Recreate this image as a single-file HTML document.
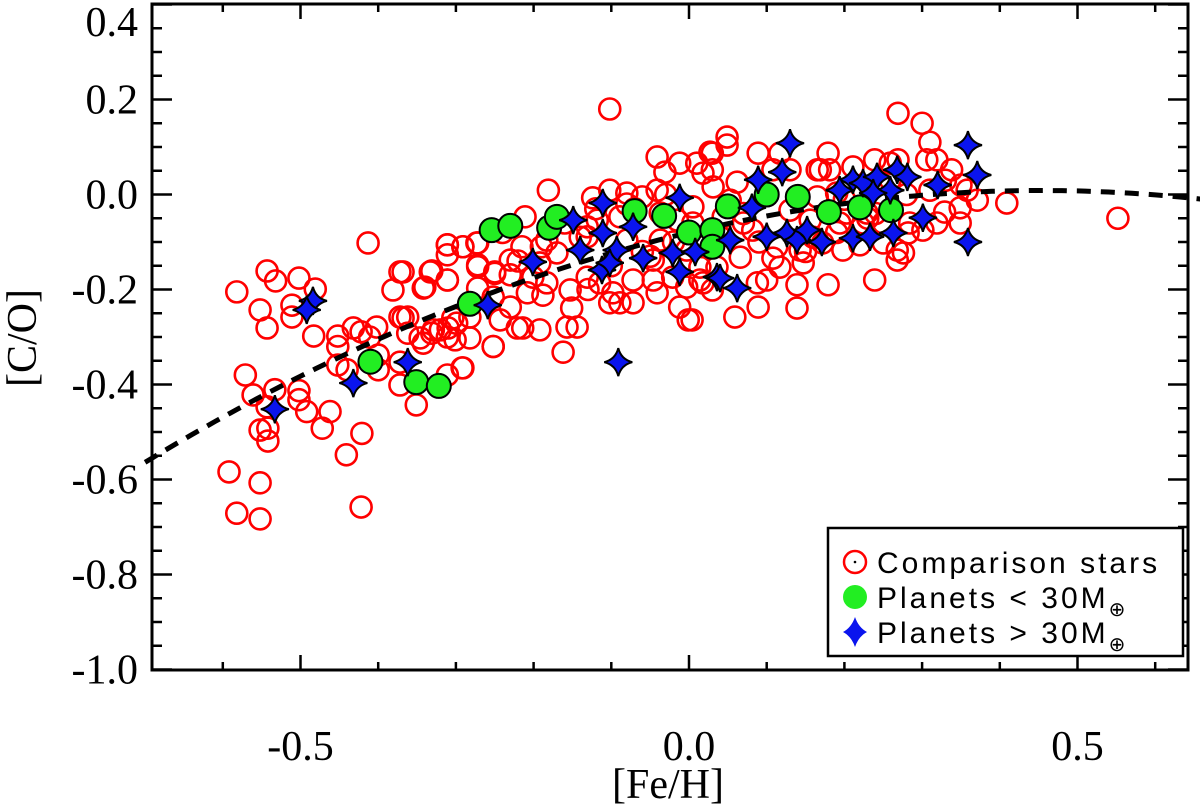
<!DOCTYPE html>
<html><head><meta charset="utf-8"><style>
html,body{margin:0;padding:0;background:#fff;}
svg{display:block;}
.tl{font-family:"Liberation Serif",serif;font-size:42px;fill:#000;}
.lg{font-family:"Liberation Sans",sans-serif;font-size:30px;fill:#000;letter-spacing:3px;}
</style></head><body>
<svg id="chart" width="1200" height="808" viewBox="0 0 1200 808" xmlns="http://www.w3.org/2000/svg">
<g id="marks"></g>
<g id="axes"></g>
</svg>
<script>
const xTicks=[-0.5,0.0,0.5];
const xTickLabels=["-0.5","0.0","0.5"];
const yTicks=[0.4,0.2,0.0,-0.2,-0.4,-0.6,-0.8,-1.0];
const yTickLabels=["0.4","0.2","0.0","-0.2","-0.4","-0.6","-0.8","-1.0"];
const fitCoeffs=[-0.08,0.39,-0.43];
const greenX=[-0.254,-0.23,-0.18,-0.17,-0.07,-0.032,0,0.03,0.03,0.05,0.1,0.14,0.18,0.22,0.26,-0.282,-0.41,-0.351,-0.322];
const greenY=[-0.075,-0.066,-0.07,-0.047,-0.035,-0.045,-0.08,-0.075,-0.11,-0.025,0,-0.005,-0.037,-0.027,-0.033,-0.23,-0.352,-0.395,-0.403];
const blueX=[-0.533,-0.484,-0.492,-0.432,-0.362,-0.259,-0.111,-0.149,-0.111,-0.140,-0.201,-0.093,-0.112,-0.102,-0.072,-0.059,-0.012,-0.021,0.008,-0.012,0.036,-0.091,0.130,0.120,0.089,0.081,0.053,0.040,0.062,0.100,0.126,0.139,0.152,0.171,0.211,0.224,0.242,0.268,0.281,0.259,0.320,0.359,0.371,0.359,0.301,0.263,0.211,0.233,0.194,0.237];
const blueY=[-0.452,-0.224,-0.243,-0.397,-0.353,-0.233,-0.018,-0.054,-0.081,-0.117,-0.142,-0.117,-0.159,-0.144,-0.068,-0.134,-0.007,-0.123,-0.121,-0.163,-0.174,-0.353,0.108,0.047,0.031,-0.028,-0.096,-0.176,-0.197,-0.089,-0.081,-0.096,-0.075,-0.1,0.031,0.024,0.037,0.052,0.037,0.009,0.020,0.104,0.041,-0.1,-0.049,-0.081,-0.092,-0.089,0.009,0.003];
const redX=[-0.582,-0.543,-0.532,-0.502,-0.481,-0.552,-0.543,-0.511,-0.511,-0.483,-0.413,-0.571,-0.561,-0.543,-0.533,-0.502,-0.502,-0.492,-0.462,-0.472,-0.552,-0.542,-0.542,-0.592,-0.552,-0.582,-0.552,-0.441,-0.421,-0.422,-0.452,-0.452,-0.432,-0.422,-0.411,-0.402,-0.4,-0.452,-0.44,-0.4,-0.372,-0.381,-0.372,-0.362,-0.362,-0.372,-0.372,-0.351,-0.342,-0.331,-0.311,-0.342,-0.331,-0.32,-0.31,-0.301,-0.282,-0.292,-0.311,-0.311,-0.311,-0.291,-0.272,-0.272,-0.272,-0.25,-0.252,-0.282,-0.304,
-0.102,-0.181,-0.041,-0.012,-0.031,0.027,0.03,-0.102,-0.08,-0.124,-0.06,-0.041,0.005,-0.211,-0.273,-0.291,-0.311,-0.333,-0.368,-0.311,-0.34,-0.272,-0.25,-0.23,-0.23,-0.215,-0.183,-0.17,-0.192,-0.201,-0.183,-0.208,-0.188,-0.23,-0.252,-0.243,-0.221,-0.192,-0.214,-0.252,-0.162,-0.153,-0.151,-0.157,-0.144,-0.131,-0.115,-0.102,-0.089,-0.072,-0.098,-0.072,-0.046,-0.041,-0.012,-0.001,-0.021,-0.003,0.014,-0.003,-0.037,-0.046,-0.131,-0.131,-0.08,-0.089,-0.118,-0.17,0.036,0.03,-0.311,-0.329,-0.299,-0.346,-0.291,-0.368,-0.015,-0.037,
0.269,0.3,0.31,0.049,0.049,0.03,0.089,0.117,0.179,0.239,0.259,0.269,0.306,0.319,0.338,0.108,0.13,0.169,0.181,0.211,0.259,0.31,0.358,0.371,0.409,0.349,0.329,0.319,0.349,0.284,0.282,0.268,0.268,0.276,0.239,0.179,0.139,0.088,0.1,0.089,0.139,0.059,0.004,0.147,0.117,0.108,0.198,0.22,0.25,0.014,0.018,0.066,0.165,0.01,0.018,0.031,0.062,0.053,0.07,0.082,0.156,0.165,0.19,0.203,0.229,0.25,0.224,0.194,0.301,0.005,0.018,0.04,0.113,0.143,0.172,0.13,0.044,0.552,
-0.06,-0.14,-0.1,-0.02,-0.16,-0.12,-0.08,-0.05,0.07,0.2,0.24,0.28,0.33,0.35,0.23,0.16,-0.07,-0.03,-0.19,-0.22,-0.24,-0.13,0.09,0.15,0.19];
const redY=[-0.205,-0.161,-0.182,-0.176,-0.199,-0.243,-0.281,-0.233,-0.258,-0.298,-0.102,-0.38,-0.422,-0.447,-0.411,-0.413,-0.432,-0.457,-0.457,-0.492,-0.496,-0.492,-0.519,-0.584,-0.607,-0.671,-0.683,-0.548,-0.503,-0.658,-0.298,-0.32,-0.281,-0.289,-0.3,-0.279,-0.338,-0.359,-0.369,-0.369,-0.163,-0.201,-0.258,-0.258,-0.292,-0.353,-0.401,-0.443,-0.197,-0.161,-0.18,-0.313,-0.292,-0.285,-0.281,-0.306,-0.302,-0.365,-0.38,-0.106,-0.127,-0.11,-0.102,-0.152,-0.197,-0.166,-0.32,-0.258,-0.26,
0.18,0.009,0.079,0.066,0.047,0.089,0.052,0.009,0.003,-0.007,-0.005,0.009,-0.026,-0.047,-0.102,-0.11,-0.106,-0.163,-0.163,-0.18,-0.195,-0.148,-0.163,-0.138,-0.169,-0.11,-0.096,-0.123,-0.144,-0.174,-0.186,-0.207,-0.212,-0.237,-0.216,-0.264,-0.281,-0.285,-0.281,-0.32,-0.332,-0.201,-0.239,-0.279,-0.279,-0.174,-0.186,-0.228,-0.228,-0.228,-0.207,-0.18,-0.18,-0.207,-0.237,-0.264,-0.174,-0.195,-0.18,-0.117,-0.096,-0.138,-0.089,-0.068,-0.096,-0.047,-0.054,-0.047,-0.153,-0.201,-0.3,-0.285,-0.271,-0.302,-0.365,-0.26,-0.054,-0.039,
0.171,0.15,0.11,0.121,0.104,0.087,0.087,0.087,0.087,0.073,0.066,0.073,0.073,0.073,0.052,0.052,0.052,0.052,0.052,0.058,0.031,0.009,0.009,-0.012,-0.018,-0.028,-0.037,-0.06,-0.06,-0.06,-0.081,-0.117,-0.138,-0.123,-0.18,-0.19,-0.19,-0.186,-0.18,-0.237,-0.239,-0.258,-0.264,-0.144,-0.153,-0.134,-0.117,-0.106,-0.102,-0.153,-0.186,-0.132,0.052,0.066,0.045,0.016,0.026,-0.012,-0.06,-0.075,-0.054,-0.005,0.003,-0.039,-0.039,-0.06,-0.06,-0.06,-0.075,-0.06,-0.11,-0.089,-0.11,-0.117,-0.102,-0.033,-0.047,-0.05,
-0.12,-0.09,-0.15,-0.1,-0.06,-0.03,-0.02,-0.13,-0.04,-0.01,-0.04,0.0,0.03,0.02,-0.05,-0.09,-0.03,0.0,-0.11,-0.14,-0.08,-0.2,-0.1,-0.12,-0.08];

const L=152,R=1188,T=4,B=670;
const X=v=>689+777*v;
const Y=v=>194.5-475*v;
const NS="http://www.w3.org/2000/svg";
function mk(tag,attrs,parent){const e=document.createElementNS(NS,tag);for(const k in attrs)e.setAttribute(k,attrs[k]);parent.appendChild(e);return e;}
const marks=document.getElementById('marks'),axes=document.getElementById('axes');

for(let i=0;i<redX.length;i++){
  const c=mk('circle',{cx:X(redX[i]),cy:Y(redY[i]),r:10.5,fill:'none',stroke:'#ff0000','stroke-width':2.6},marks);
  
  
}
let d='';
for(let k=0;k<=140;k++){const xv=-0.7+k*0.01;const yv=fitCoeffs[0]+fitCoeffs[1]*xv+fitCoeffs[2]*xv*xv;d+=(k?'L':'M')+X(xv).toFixed(1)+' '+Y(yv).toFixed(1);}
const fit=mk('path',{d:d,fill:'none',stroke:'#000','stroke-width':5,'stroke-dasharray':'14 10'},marks);


function starPath(cx,cy,s){const q=s*0.2;return `M${cx} ${cy-s} Q${cx+q} ${cy-q} ${cx+s} ${cy} Q${cx+q} ${cy+q} ${cx} ${cy+s} Q${cx-q} ${cy+q} ${cx-s} ${cy} Q${cx-q} ${cy-q} ${cx} ${cy-s}Z`;}
for(let i=0;i<greenX.length;i++){
  const c=mk('circle',{cx:X(greenX[i]),cy:Y(greenY[i]),r:12,fill:'#22ee22',stroke:'#000','stroke-width':2},marks);
  
  
}
for(let i=0;i<blueX.length;i++){
  const p=mk('path',{d:starPath(X(blueX[i]),Y(blueY[i]),14),fill:'#0a14ee',stroke:'#000','stroke-width':2},marks);
  
  
}
const fr=mk('rect',{x:L,y:T,width:R-L,height:B-T,fill:'none',stroke:'#000','stroke-width':3},axes);


for(let v=-0.6;v<=0.61;v+=0.1){const vv=Math.round(v*10)/10;const major=Math.abs(vv*2-Math.round(vv*2))<1e-6;const len=major?15:8;
  const t1=mk('line',{x1:X(vv),x2:X(vv),y1:B,y2:B-len,stroke:'#000','stroke-width':2.5},axes);
  
  
  const t2=mk('line',{x1:X(vv),x2:X(vv),y1:T,y2:T+len,stroke:'#000','stroke-width':2.5},axes);
  
  
}
xTicks.forEach((v,i)=>{const t=mk('text',{x:X(v),y:760,'text-anchor':'middle',class:'tl'},axes);t.textContent=xTickLabels[i];
  
  });
for(let k=0;k<=28;k++){const vv=-1.0+k*0.05;const major=k%4===0;const len=major?20:10;
  const t1=mk('line',{x1:L,x2:L+len,y1:Y(vv),y2:Y(vv),stroke:'#000','stroke-width':2.5},axes);
  
  
  const t2=mk('line',{x1:R,x2:R-len,y1:Y(vv),y2:Y(vv),stroke:'#000','stroke-width':2.5},axes);
  
  
}
yTicks.forEach((v,i)=>{const yy=Math.max(Y(v),22);const t=mk('text',{x:138,y:yy+14,'text-anchor':'end',class:'tl'},axes);t.textContent=yTickLabels[i];
  
  });
</script>
<svg style="position:absolute;left:0;top:0" width="1200" height="808">
<text class="tl" x="668" y="798" text-anchor="middle">[Fe/H]</text>
<text class="tl" x="0" y="0" text-anchor="middle" transform="translate(36,338) rotate(-90)">[C/O]</text>
<g>
<rect x="828" y="528" width="355" height="128" fill="#fff" stroke="#000" stroke-width="2.5"/>
<g>
<circle cx="855" cy="562" r="11" fill="none" stroke="#f00" stroke-width="2.5"/><circle cx="855" cy="562" r="1.3" fill="#000"/>
<text class="lg" x="877" y="573">Comparison stars</text></g>
<g>
<circle cx="855" cy="597" r="12" fill="#22ee22"/>
<text class="lg" x="877" y="608">Planets &lt; 30M<tspan font-size="20" dy="8">⊕</tspan></text></g>
<g>
<path d="M855 617 Q858.6 627.6 867 632 Q858.6 636.4 855 647 Q851.4 636.4 843 632 Q851.4 627.6 855 617Z" fill="#0a14ee"/>
<text class="lg" x="877" y="643">Planets &gt; 30M<tspan font-size="20" dy="8">⊕</tspan></text></g>
</g>
</svg>
</body></html>
